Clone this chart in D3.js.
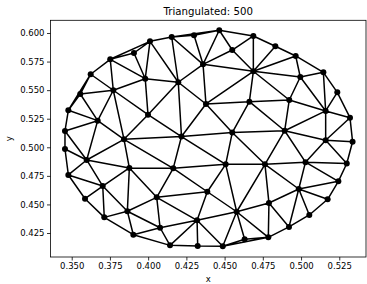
<!DOCTYPE html>
<html><head><meta charset="utf-8">
<script src="https://cdn.jsdelivr.net/npm/d3@7"></script>
<style>body{margin:0;background:#fff}svg{display:block}</style>
</head><body>
<svg id="c" width="367" height="284"></svg>
<script>
const title = "Triangulated: 500";
const xTicks = [0.350,0.375,0.400,0.425,0.450,0.475,0.500,0.525];
const yTicks = [0.425,0.450,0.475,0.500,0.525,0.550,0.575,0.600];
const xs = [0.3456,0.3456,0.3478,0.3587,0.3713,0.3903,0.4143,0.4324,0.4488,0.4631,0.4786,0.4921,0.5054,0.5174,0.5244,0.5299,0.5337,0.5320,0.5237,0.5146,0.4965,0.4832,0.4688,0.4465,0.4300,0.4154,0.4012,0.3907,0.3752,0.3624,0.3556,0.3478,
 0.3981,0.4197,0.4359,0.4550,0.4688,0.4995,0.3772,0.3670,0.3999,0.4378,0.4662,0.4923,0.5161,0.3842,0.4218,0.4550,0.4893,0.5161,0.3598,0.3877,0.4164,0.4507,0.4764,0.5029,0.3703,0.4387,0.4985,0.4056,0.3864,0.4320,0.4078,0.4579,0.4790];
const ys = [0.5143,0.4985,0.4758,0.4550,0.4387,0.4235,0.4142,0.4136,0.4134,0.4195,0.4212,0.4303,0.4408,0.4545,0.4702,0.4858,0.5049,0.5259,0.5481,0.5656,0.5799,0.5884,0.5974,0.6024,0.5980,0.5965,0.5927,0.5825,0.5770,0.5639,0.5466,0.5324,
 0.5600,0.5569,0.5726,0.5851,0.5665,0.5615,0.5499,0.5233,0.5285,0.5379,0.5399,0.5414,0.5318,0.5070,0.5094,0.5129,0.5145,0.5061,0.4889,0.4819,0.4816,0.4851,0.4851,0.4870,0.4661,0.4611,0.4635,0.4562,0.4440,0.4361,0.4296,0.4436,0.4513];

const svg = d3.select("#c");
const L = 50.5, R = 366, T = 20.3, B = 257;
const x = d3.scaleLinear().domain([0.33613, 0.54248]).range([L, R]);
const y = d3.scaleLinear().domain([0.40401, 0.61111]).range([B, T]);

const pts = xs.map((v,i)=>[x(v), y(ys[i])]);
const del = d3.Delaunay.from(pts);
svg.append("path").attr("d", del.render()).attr("fill","none").attr("stroke","#000").attr("stroke-width",1.5).attr("stroke-linejoin","round");
svg.append("g").selectAll("circle").data(pts).join("circle")
  .attr("cx",d=>d[0]).attr("cy",d=>d[1]).attr("r",3).attr("fill","#000");

const font = "DejaVu Sans, sans-serif";
const xa = svg.append("g").attr("transform",`translate(0,${B})`)
  .call(d3.axisBottom(x).tickValues(xTicks).tickFormat(d3.format(".3f")).tickSize(3.5).tickPadding(2.5));
const ya = svg.append("g").attr("transform",`translate(${L},0)`)
  .call(d3.axisLeft(y).tickValues(yTicks).tickFormat(d3.format(".3f")).tickSize(3.5).tickPadding(2.5));
[xa,ya].forEach(a=>{
  a.select(".domain").remove();
  a.selectAll("line").attr("stroke","#000").attr("stroke-width",0.8);
  a.selectAll("text").attr("font-family",font).attr("font-size",8.5).attr("fill","#000");
});
svg.append("rect").attr("x",L).attr("y",T).attr("width",R-L).attr("height",B-T)
  .attr("fill","none").attr("stroke","#000").attr("stroke-width",0.8);

svg.append("text").attr("x",(L+R)/2).attr("y",15).attr("text-anchor","middle")
  .attr("font-family",font).attr("font-size",10.2).attr("fill","#000").text(title);
svg.append("text").attr("x",(L+R)/2).attr("y",282).attr("text-anchor","middle")
  .attr("font-family",font).attr("font-size",8.5).attr("fill","#000").text("x");
svg.append("text").attr("transform",`translate(12,${(T+B)/2}) rotate(-90)`).attr("text-anchor","middle")
  .attr("font-family",font).attr("font-size",8.5).attr("fill","#000").text("y");
</script>
</body></html>
